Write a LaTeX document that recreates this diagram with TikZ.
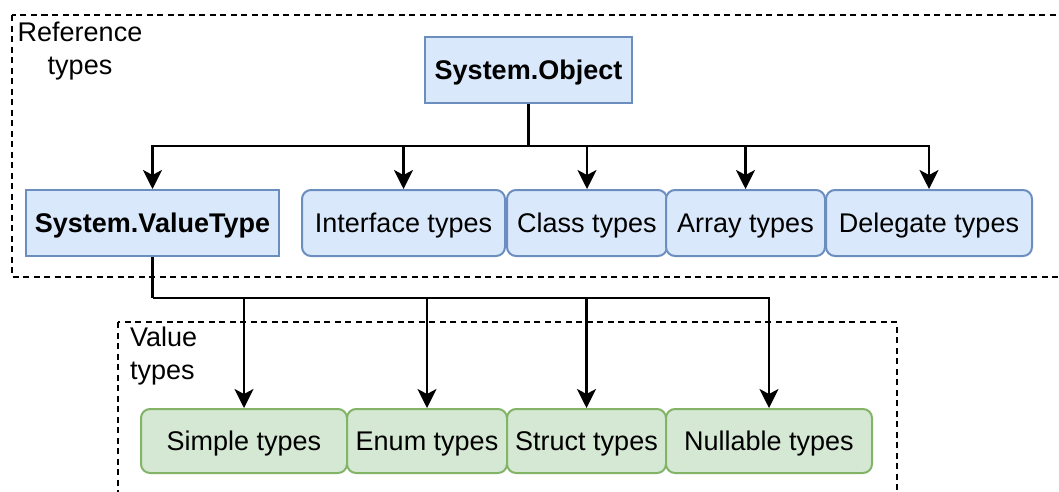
\documentclass[tikz,border=0pt]{standalone}
\usepackage{fontspec}
\setmainfont{Liberation Sans}
\usetikzlibrary{arrows.meta}
\definecolor{blueF}{HTML}{DAE8FC}
\definecolor{blueS}{HTML}{6C8EBF}
\definecolor{greenF}{HTML}{D5E8D4}
\definecolor{greenS}{HTML}{82B366}
\tikzset{
  base/.style={shape=rectangle, inner sep=0pt, anchor=center, line width=2pt,
    text height=22pt, text depth=4pt,
    font=\fontsize{27}{31}\selectfont, text=black},
  sysbox/.style={base, draw=blueS, fill=blueF, font=\fontsize{27}{31}\selectfont\bfseries},
  refbox/.style={base, draw=blueS, fill=blueF, rounded corners=9pt},
  valbox/.style={base, draw=greenS, fill=greenF, rounded corners=9pt},
  conn/.style={line width=2.5pt, -{Stealth[length=19pt, width=19pt, inset=5pt]}},
  plainconn/.style={line width=2.5pt},
  group/.style={draw=black, line width=1.8pt, dash pattern=on 6pt off 4.5pt},
  grouplabel/.style={inner sep=0pt, font=\fontsize{27}{33}\selectfont}
}
\begin{document}
\begin{tikzpicture}[x=1pt, y=-1pt]
\useasboundingbox (0,0) rectangle (1059,491);
% group boxes
\draw[group] (12,15) rectangle (1075,277);
\draw[group] (118,322) rectangle (897,510);
\node[grouplabel, align=center] (reflbl) at (80,51) {Reference\\types};
\node[grouplabel, align=left, anchor=west] (vallbl) at (130,356) {Value\\types};
% nodes
\node[sysbox, minimum width=207pt, minimum height=66pt] (obj) at (528.5,70) {System.Object};
\node[sysbox, minimum width=253pt, minimum height=66pt] (vt) at (152.5,223) {System.ValueType};
\node[refbox, minimum width=203pt, minimum height=66pt] (intf) at (403.5,223) {Interface types};
\node[refbox, minimum width=160pt, minimum height=66pt] (cls) at (587,223) {Class types};
\node[refbox, minimum width=159pt, minimum height=66pt] (arr) at (745.5,223) {Array types};
\node[refbox, minimum width=206pt, minimum height=66pt] (del) at (929,223) {Delegate types};
\node[valbox, minimum width=206pt, minimum height=64pt] (simple) at (244,441) {Simple types};
\node[valbox, minimum width=160pt, minimum height=64pt] (enum) at (427,441) {Enum types};
\node[valbox, minimum width=159pt, minimum height=64pt] (struct) at (586.5,441) {Struct types};
\node[valbox, minimum width=206pt, minimum height=64pt] (nullable) at (769,441) {Nullable types};
% junctions
\coordinate (jt) at (528.5,146);
\coordinate (jb) at (152.5,298);
% connectors
\draw[plainconn] (obj.south) -- (jt);
\foreach \t in {vt,intf,cls,arr,del}{
  \draw[conn] (jt) -| (\t.north);
}
\draw[plainconn] (vt.south) -- (jb);
\foreach \t in {simple,enum,struct,nullable}{
  \draw[conn] (jb) -| (\t.north);
}
\end{tikzpicture}
\end{document}
